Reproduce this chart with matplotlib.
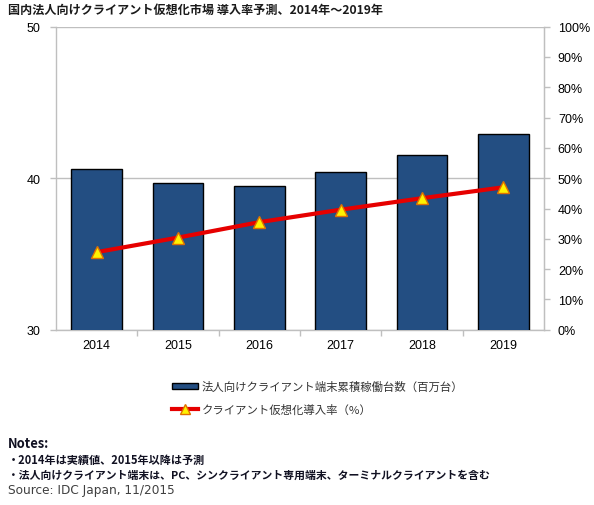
#Chart of corporate client virtualization market: installed base (bars) and adoption rate (line)
#Output: out.png

import matplotlib
matplotlib.use("Agg")
import matplotlib.pyplot as plt
from matplotlib.lines import Line2D
from matplotlib.patches import Patch
from matplotlib.ticker import FuncFormatter, MultipleLocator

years = ["2014", "2015", "2016", "2017", "2018", "2019"]
installed_base = [40.6, 39.7, 39.5, 40.4, 41.5, 42.9]  # million units
adoption_rate = [25.6, 30.4, 35.5, 39.6, 43.4, 47.0]   # percent

title_text = "国内法人向けクライアント仮想化市場 導入率予測、2014年～2019年"
bar_label = "法人向けクライアント端末累積稼働台数（百万台）"
line_label = "クライアント仮想化導入率（%）"
notes = ["Notes:",
         "・2014年は実績値、2015年以降は予測",
         "・法人向けクライアント端末は、PC、シンクライアント専用端末、ターミナルクライアントを含む"]
source_text = "Source: IDC Japan, 11/2015"

cjk = ["Noto Sans CJK JP", "DejaVu Sans"]
bar_color = "#234E82"
grey = "#bfbfbf"


def main():
    fig = plt.figure(figsize=(5.94, 5.06), dpi=100)
    ax = fig.add_axes([0.0943, 0.3464, 0.8215, 0.5989])

    x = list(range(len(years)))
    ax.bar(x, installed_base, width=0.62, color=bar_color, edgecolor="black",
           linewidth=1.0, zorder=3)
    ax.set_xlim(-0.5, len(years) - 0.5)
    ax.set_ylim(30, 50)
    ax.yaxis.set_major_locator(MultipleLocator(10))
    ax.grid(axis="y", color=grey, linewidth=1.0, zorder=0)
    ax.set_xticks(x)
    ax.set_xticklabels(years)
    ax.set_xticks([i + 0.5 for i in range(len(years) - 1)], minor=True)
    ax.tick_params(axis="x", which="major", length=0, pad=7)
    ax.tick_params(axis="x", which="minor", length=4, color=grey, width=1)
    ax.tick_params(axis="y", length=4, color=grey, width=1, pad=7)
    for lab in ax.get_xticklabels() + ax.get_yticklabels():
        lab.set_fontfamily("Liberation Sans")
        lab.set_fontsize(9)
    ax.spines["top"].set_visible(False)
    for s in ["left", "right", "bottom"]:
        ax.spines[s].set_color(grey)
        ax.spines[s].set_linewidth(1.0)

    ax2 = ax.twinx()
    ax2.plot(x, [v / 100.0 for v in adoption_rate], color="#E60000", linewidth=3,
             marker="^", markersize=9, markerfacecolor="#FFF200",
             markeredgecolor="#E07000", markeredgewidth=1.0, zorder=5)
    ax2.set_ylim(0, 1)
    ax2.yaxis.set_major_locator(MultipleLocator(0.1))
    ax2.yaxis.set_major_formatter(FuncFormatter(lambda v, p: "{:.0f}%".format(v * 100)))
    ax2.tick_params(axis="y", length=4, color=grey, width=1, pad=6)
    for lab in ax2.get_yticklabels():
        lab.set_fontfamily("Liberation Sans")
        lab.set_fontsize(9)
    for s in ["top", "left", "bottom"]:
        ax2.spines[s].set_visible(False)
    ax2.spines["right"].set_color(grey)

    fig.text(8 / 594, 1 - 10 / 506, title_text, family=cjk, fontsize=8.7,
             fontweight="bold", color="#1a1a1a", va="center", ha="left")

    handles = [Patch(facecolor=bar_color, edgecolor="black", linewidth=1.0),
               Line2D([], [], color="#E60000", linewidth=3, marker="^",
                      markersize=7, markerfacecolor="#FFF200",
                      markeredgecolor="#E07000")]
    leg = fig.legend(handles, [bar_label, line_label], loc="upper left",
                     bbox_to_anchor=(172 / 594, 1 - 382 / 506), frameon=False,
                     prop={"family": cjk, "size": 8.2}, handlelength=2.3,
                     handleheight=0.5, handletextpad=0.3, labelspacing=1.0,
                     borderpad=0, borderaxespad=0)
    for t in leg.get_texts():
        t.set_color("#333333")

    ys = [444, 460.5, 476, 491]
    sizes = [9.3, 8.0, 7.8]
    for i in range(len(notes)):
        fig.text(8 / 594, 1 - ys[i] / 506, notes[i], family=cjk, fontsize=sizes[i],
                 fontweight="bold", color="#111122", va="center", ha="left")
    fig.text(8 / 594, 1 - ys[3] / 506, source_text, family="DejaVu Sans",
             fontsize=8.7, color="#404040", va="center", ha="left")

    fig.savefig("out.png", dpi=100)


main()
